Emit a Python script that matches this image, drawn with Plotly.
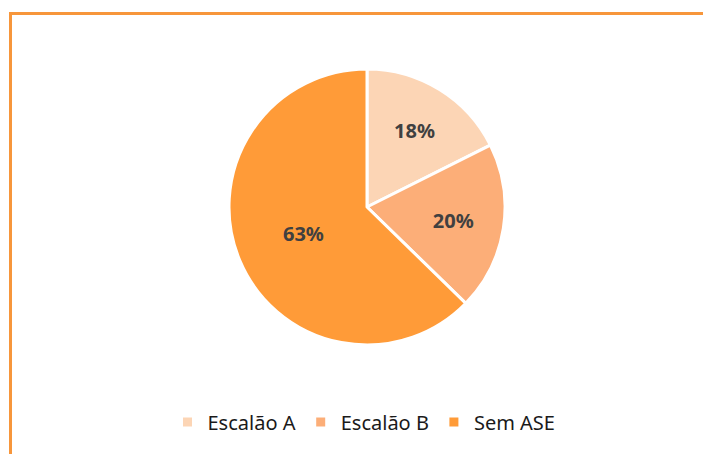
import plotly.graph_objects as go

labels = ["Escalão A", "Escalão B", "Sem ASE"]
values = [17.6, 19.7, 62.7]
colors = ["#FCD5B5", "#FCAE78", "#FF9B38"]

W, H = 711, 454
OFF = 8  # page offset of the plot inside the browser window
cx, cy, r = 367 - OFF, 207 - OFF, 138

fig = go.Figure(go.Pie(
    labels=labels,
    values=values,
    sort=False,
    direction="clockwise",
    rotation=0,
    marker=dict(colors=colors, line=dict(color="white", width=3)),
    textinfo="percent",
    texttemplate="<b>%{percent:.0%}</b>",
    textposition="inside",
    insidetextorientation="horizontal",
    textfont=dict(family="Noto Sans", size=20, color="#404040"),
    domain=dict(x=[(cx - r) / W, (cx + r) / W], y=[(H - cy - r) / H, (H - cy + r) / H]),
    hoverinfo="label+percent",
))

fig.add_shape(type="rect", xref="paper", yref="paper",
              x0=(10.5 - OFF) / W, x1=1.2, y0=-0.2, y1=(H - 13.5 + OFF) / H,
              line=dict(color="#F7963B", width=3), fillcolor="rgba(0,0,0,0)")

fig.update_layout(
    width=W, height=H,
    margin=dict(l=0, r=0, t=0, b=0),
    paper_bgcolor="white",
    plot_bgcolor="white",
    showlegend=True,
    legend=dict(orientation="h", x=(364 - OFF) / W, xanchor="center", y=(H - 422 + OFF) / H, yanchor="middle",
                font=dict(family="Noto Sans", size=20, color="#1a1a1a"),
                itemwidth=30, traceorder="normal"),
)

fig.write_html("out.html")
